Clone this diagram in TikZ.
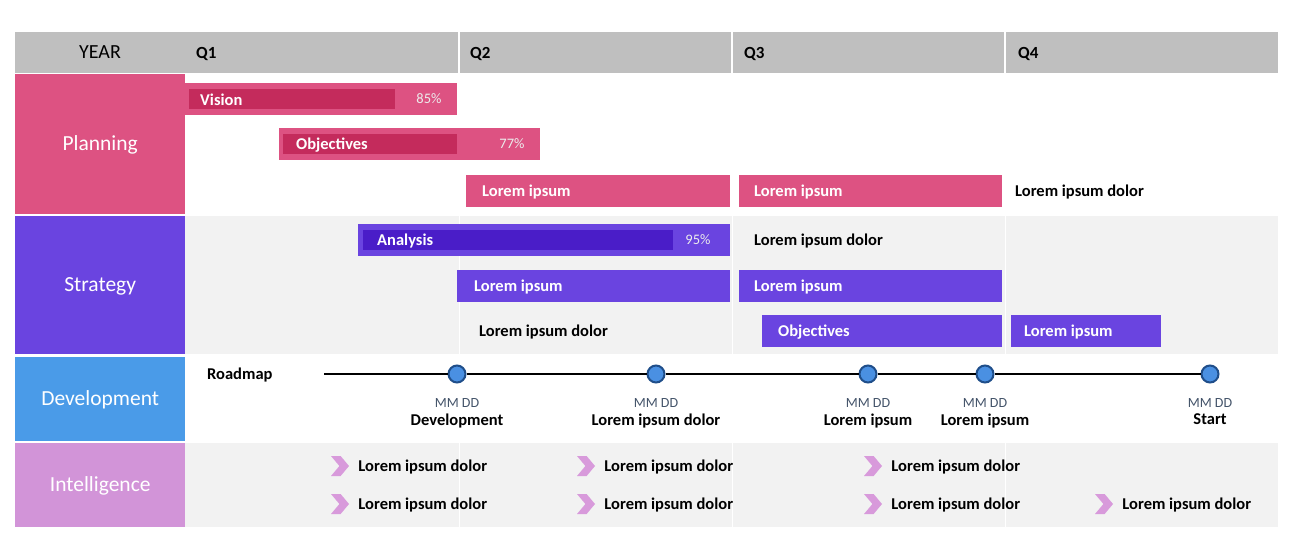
\documentclass[tikz,border=0pt]{standalone}
\usepackage{fontspec}
\setmainfont{Carlito}
\usetikzlibrary{positioning,shapes.symbols}
\definecolor{hdrgray}{HTML}{BFBFBF}
\definecolor{plan}{HTML}{DD5282}
\definecolor{plandark}{HTML}{C42B5C}
\definecolor{strat}{HTML}{6A44E0}
\definecolor{stratdark}{HTML}{4A1DC8}
\definecolor{devblue}{HTML}{4A9BE8}
\definecolor{intel}{HTML}{D294D8}
\definecolor{rowgray}{HTML}{F2F2F2}
\definecolor{chevpink}{HTML}{D89ADB}
\definecolor{msfill}{HTML}{4A90E2}
\definecolor{msborder}{HTML}{1F4E8A}
\definecolor{datecol}{HTML}{44546A}
\tikzstyle{cat} = [rectangle, anchor=north west, inner sep=0pt, minimum width=170, text=white, text height=15, text depth=2, font=\fontsize{21.5}{24}\selectfont]
\tikzstyle{hdr} = [anchor=west, inner sep=0pt, yshift=-1pt, font=\fontsize{17}{20}\selectfont\bfseries]
\tikzstyle{bar} = [rectangle, anchor=west, inner sep=0pt, minimum height=32]
\tikzstyle{inbar} = [rectangle, anchor=west, inner sep=0pt, minimum height=20]
\tikzstyle{lbl} = [anchor=west, inner sep=0pt, yshift=-1.5pt, text=white, font=\fontsize{16.5}{19}\selectfont\bfseries]
\tikzstyle{pct} = [inner sep=0pt, text=white!85!gray, font=\fontsize{14.5}{17}\selectfont]
\tikzstyle{plain} = [anchor=west, inner sep=0pt, yshift=-1.5pt, font=\fontsize{16.5}{19}\selectfont\bfseries]
\tikzstyle{ms} = [circle, fill=msfill, draw=msborder, line width=2pt, minimum size=17, inner sep=0pt]
\tikzstyle{mmdd} = [inner sep=0pt, text=datecol, font=\fontsize{14}{16}\selectfont]
\tikzstyle{msname} = [inner sep=0pt, font=\fontsize{16.5}{19}\selectfont\bfseries]
\tikzstyle{chev} = [signal, signal to=east, signal from=west, signal pointer angle=100, fill=chevpink, minimum width=18, minimum height=20, inner sep=0pt]

\begin{document}
\begin{tikzpicture}[x=1pt, y=-1pt]
\useasboundingbox[fill=white] (0,0) rectangle (1290,554);
% row backgrounds
\fill[hdrgray] (15,32) rectangle (1278,73);
\fill[rowgray] (185,216) rectangle (1278,354);
\fill[rowgray] (185,443) rectangle (1278,527);
\foreach \qx in {459,732,1005} {
  \draw[white, line width=1.5pt] (\qx,32) -- (\qx,73);
  \draw[white, line width=1pt] (\qx,216) -- (\qx,354);
  \draw[white, line width=1pt] (\qx,443) -- (\qx,527);
}

% header
\node[font=\fontsize{20}{24}\selectfont, inner sep=0pt] (year) at (100,52) {YEAR};
\node[hdr] (q1) at (196,53) {Q1};
\node[hdr] (q2) at (470,53) {Q2};
\node[hdr] (q3) at (744,53) {Q3};
\node[hdr] (q4) at (1018,53) {Q4};

% categories
\node[cat, fill=plan, minimum height=140] (planning) at (15,74) {Planning};
\node[cat, fill=strat, minimum height=138] (strategy) at (15,216) {Strategy};
\node[cat, fill=devblue, minimum height=84] (development) at (15,357) {Development};
\node[cat, fill=intel, minimum height=84] (intelligence) at (15,443) {Intelligence};

% planning
\node[bar, fill=plan, minimum width=272] (vision) at (185,98.5) {};
\node[inbar, fill=plandark, minimum width=206] (visionin) at (189,98.5) {};
\node[lbl] at ([xshift=11]visionin.west) {Vision};
\node[pct] at (429,98.5) {85\%};
\node[bar, fill=plan, minimum width=261] (obj) at (279,144) {};
\node[inbar, fill=plandark, minimum width=174] (objin) at (283,144) {};
\node[lbl] at ([xshift=13]objin.west) {Objectives};
\node[pct] at (512,144) {77\%};
\node[bar, fill=plan, minimum width=264] (plan3a) at (466,191) {};
\node[lbl] at ([xshift=16]plan3a.west) {Lorem ipsum};
\node[bar, fill=plan, minimum width=263] (plan3b) at (739,191) {};
\node[lbl] at ([xshift=15]plan3b.west) {Lorem ipsum};
\node[plain] (plan3c) at (1015,191) {Lorem ipsum dolor};

% strategy
\node[bar, fill=strat, minimum width=372] (analysis) at (358,240) {};
\node[inbar, fill=stratdark, minimum width=310] (analysisin) at (363,240) {};
\node[lbl] at ([xshift=14]analysisin.west) {Analysis};
\node[pct] at (698,240) {95\%};
\node[plain] (strat1b) at (754,240) {Lorem ipsum dolor};
\node[bar, fill=strat, minimum width=273] (strat2a) at (457,286) {};
\node[lbl] at ([xshift=17]strat2a.west) {Lorem ipsum};
\node[bar, fill=strat, minimum width=263] (strat2b) at (739,286) {};
\node[lbl] at ([xshift=15]strat2b.west) {Lorem ipsum};
\node[plain] (strat3a) at (479,331) {Lorem ipsum dolor};
\node[bar, fill=strat, minimum width=240] (strat3b) at (762,331) {};
\node[lbl] at ([xshift=16]strat3b.west) {Objectives};
\node[bar, fill=strat, minimum width=150] (strat3c) at (1011,331) {};
\node[lbl] at ([xshift=13]strat3c.west) {Lorem ipsum};

% development
\node[plain] (roadmap) at (207,374) {Roadmap};
\coordinate (rmstart) at (324,374);
\node[ms] (m1) at (457,374) {};
\node[ms] (m2) at (656,374) {};
\node[ms] (m3) at (868,374) {};
\node[ms] (m4) at (985,374) {};
\node[ms] (m5) at (1210,374) {};
\draw[line width=2pt] (rmstart) -- (m1) -- (m2) -- (m3) -- (m4) -- (m5);
\foreach \m/\txt in {m1/Development, m2/Lorem ipsum dolor, m3/Lorem ipsum, m4/Lorem ipsum, m5/Start} {
  \node[mmdd, below=15pt of \m] (\m d) {MM DD};
  \node[msname, below=6pt of \m d] (\m n) {\txt};
}

% intelligence
\node[chev] (c1) at (340,466) {};
\node[chev] (c2) at (586,466) {};
\node[chev] (c3) at (873,466) {};
\node[chev] (c4) at (340,504) {};
\node[chev] (c5) at (586,504) {};
\node[chev] (c6) at (873,504) {};
\node[chev] (c7) at (1104,504) {};
\foreach \c in {c1,c2,c3,c4,c5,c6,c7}
  \node[plain, right=9pt of \c] (\c t) {Lorem ipsum dolor};
\end{tikzpicture}
\end{document}
